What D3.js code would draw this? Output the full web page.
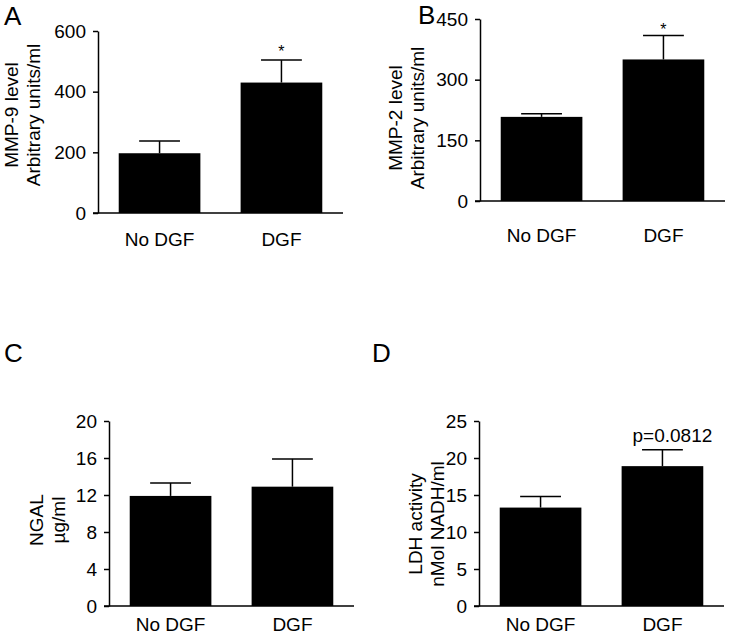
<!DOCTYPE html>
<html>
<head>
<meta charset="utf-8">
<script src="https://cdn.jsdelivr.net/npm/d3@7"></script>
<style>
  body { margin: 0; background: #fff; }
  svg text { font-family: "Liberation Sans", Arial, sans-serif; fill: #000; }
</style>
</head>
<body>
<div id="chart"></div>
<script>
// Data
const groups = ["No DGF", "DGF"];

const mmp9Means = [197, 430];
const mmp9Errs = [40, 74];
const mmp9Ticks = [0, 200, 400, 600];

const mmp2Means = [208, 350];
const mmp2Errs = [8, 59];
const mmp2Ticks = [0, 150, 300, 450];

const ngalMeans = [11.9, 12.9];
const ngalErrs = [1.4, 3.0];
const ngalTicks = [0, 4, 8, 12, 16, 20];

const ldhMeans = [13.3, 18.9];
const ldhErrs = [1.5, 2.2];
const ldhTicks = [0, 5, 10, 15, 20, 25];

// Panel layout
const panels = [
  {letter: "A", lx: 4, ly: 25, left: 98, top: 31, bottom: 213, means: mmp9Means, errs: mmp9Errs,
   ticks: mmp9Ticks, labels: ["MMP-9 level", "Arbitrary units/ml"], labX: 18, labY: 115, catPad: 20,
   note: "*", noteIdx: 1, noteSize: 16, noteDy: -3},
  {letter: "B", lx: 418, ly: 24, left: 480, top: 19, bottom: 201, means: mmp2Means, errs: mmp2Errs,
   ticks: mmp2Ticks, labels: ["MMP-2 level", "Arbitrary units/ml"], labX: 402, labY: 118, catPad: 28,
   note: "*", noteIdx: 1, noteSize: 16, noteDy: -1},
  {letter: "C", lx: 4, ly: 362, left: 109, top: 421, bottom: 606, means: ngalMeans, errs: ngalErrs,
   ticks: ngalTicks, labels: ["NGAL", "\u00b5g/ml"], labX: 43, labY: 520, catPad: 12},
  {letter: "D", lx: 372, ly: 362, left: 479, top: 421, bottom: 606, means: ldhMeans, errs: ldhErrs,
   ticks: ldhTicks, labels: ["LDH activity", "nMol NADH/ml"], labX: 422, labY: 524, catPad: 12,
   note: "p=0.0812", noteIdx: 1, noteSize: 19, noteDy: -8, noteDx: 10}
];

const svg = d3.select("#chart")
  .append("svg")
  .attr("width", 730)
  .attr("height", 637);

panels.forEach(p => {
  const g = svg.append("g");

  const x = d3.scaleBand()
    .domain(groups)
    .range([p.left, p.left + 245])
    .paddingInner(0.33)
    .paddingOuter(0.17);
  const y = d3.scaleLinear()
    .domain([0, d3.max(p.ticks)])
    .range([p.bottom, p.top]);

  const data = groups.map((k, i) => ({group: k, mean: p.means[i], err: p.errs[i]}));

  // Bars
  g.selectAll("rect")
    .data(data)
    .join("rect")
    .attr("x", d => x(d.group))
    .attr("y", d => y(d.mean))
    .attr("width", x.bandwidth())
    .attr("height", d => y(0) - y(d.mean))
    .attr("fill", "#000");

  // Error bars (upper half only)
  const cx = d => x(d.group) + x.bandwidth() / 2;
  const capW = x.bandwidth() * 0.5;
  g.selectAll("line.err")
    .data(data)
    .join("line")
    .attr("class", "err")
    .attr("x1", cx).attr("x2", cx)
    .attr("y1", d => y(d.mean)).attr("y2", d => y(d.mean + d.err))
    .attr("stroke", "#000").attr("stroke-width", 1.5);
  g.selectAll("line.cap")
    .data(data)
    .join("line")
    .attr("class", "cap")
    .attr("x1", d => cx(d) - capW / 2).attr("x2", d => cx(d) + capW / 2)
    .attr("y1", d => y(d.mean + d.err)).attr("y2", d => y(d.mean + d.err))
    .attr("stroke", "#000").attr("stroke-width", 1.5);

  // Y axis
  const yAxis = g.append("g")
    .attr("transform", `translate(${p.left},0)`)
    .call(d3.axisLeft(y).tickValues(p.ticks).tickSize(5).tickSizeOuter(0).tickPadding(7));
  yAxis.select(".domain").attr("stroke-width", 1.5);
  yAxis.selectAll(".tick line").attr("stroke-width", 1.5);
  yAxis.selectAll(".tick text").attr("font-size", 19).attr("font-family", null);

  // X axis baseline and category labels
  const xAxis = g.append("g")
    .attr("transform", `translate(0,${p.bottom})`)
    .call(d3.axisBottom(x).tickSize(0).tickPadding(p.catPad));
  xAxis.select(".domain")
    .attr("d", `M${p.left - 5},0H${p.left + 245}`)
    .attr("stroke-width", 1.5);
  xAxis.selectAll(".tick text").attr("font-size", 19).attr("font-family", null);

  // Y axis title (two lines)
  p.labels.forEach((t, i) => {
    g.append("text")
      .attr("transform", `translate(${p.labX + i * 22},${p.labY}) rotate(-90)`)
      .attr("text-anchor", "middle")
      .attr("font-size", 19)
      .text(t);
  });

  // Panel letter
  g.append("text")
    .attr("x", p.lx)
    .attr("y", p.ly)
    .attr("font-size", 26)
    .text(p.letter);

  // Significance note
  if (p.note) {
    const d = data[p.noteIdx];
    g.append("text")
      .attr("x", cx(d) + (p.noteDx || 0))
      .attr("y", y(d.mean + d.err) + p.noteDy)
      .attr("text-anchor", "middle")
      .attr("font-size", p.noteSize)
      .text(p.note);
  }
});
</script>
</body>
</html>
